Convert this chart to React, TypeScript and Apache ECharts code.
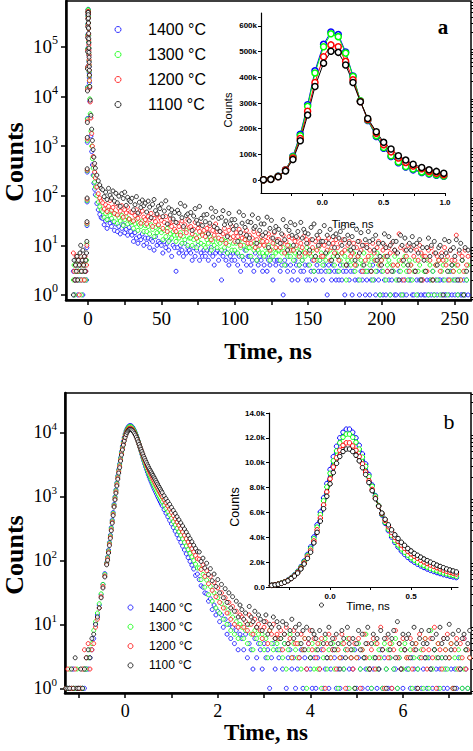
import { useEffect, useRef } from 'react';
import * as echarts from 'echarts';

const SERIES_NAMES = ['1400 °C', '1300 °C', '1200 °C', '1100 °C'];
const SERIES_COLORS = ['#0000ff', '#00ff00', '#ff0000', '#000000'];

// ---------- Panel a: time (ns) and counts ----------
const TIME_A = [
  -10, -9.5, -9, -8.5, -8, -7.5, -7, -6.5, -6, -5.5, -5, -4.5, -4, -3.5, -3, -2.5, -2, -1.5, -1,
  -0.8, -0.7, -0.62, -0.55,
  -0.48, -0.42, -0.36, -0.3, -0.24, -0.18, -0.12, -0.06, 0.01, 0.07, 0.13, 0.19, 0.25,
  0.31, 0.37, 0.44, 0.5, 0.56, 0.62, 0.68, 0.74, 0.81, 0.87, 0.93, 0.99,
  1.2, 1.5, 2, 2.5, 3, 3.5, 4, 4.5, 5, 6, 7, 8, 9,
  10, 11, 12, 13, 14, 15, 16, 17, 18, 19,
  20, 21, 22, 23, 24, 25, 26, 27, 28, 29,
  30, 31, 32, 33, 34, 35, 36, 37, 38, 39,
  40, 41, 42, 43, 44, 45, 46, 47, 48, 49,
  50, 51, 52, 53, 54, 55, 56, 57, 58, 59,
  60, 61, 62, 63, 64, 65, 66, 67, 68, 69,
  70, 71, 72, 73, 74, 75, 76, 77, 78, 79,
  80, 81, 82, 83, 84, 85, 86, 87, 88, 89,
  90, 91, 92, 93, 94, 95, 96, 97, 98, 99,
  100, 101, 102, 103, 104, 105, 106, 107, 108, 109,
  110, 111, 112, 113, 114, 115, 116, 117, 118, 119,
  120, 121, 122, 123, 124, 125, 126, 127, 128, 129,
  130, 131, 132, 133, 134, 135, 136, 137, 138, 139,
  140, 141, 142, 143, 144, 145, 146, 147, 148, 149,
  150, 151, 152, 153, 154, 155, 156, 157, 158, 159,
  160, 161, 162, 163, 164, 165, 166, 167, 168, 169,
  170, 171, 172, 173, 174, 175, 176, 177, 178, 179,
  180, 181, 182, 183, 184, 185, 186, 187, 188, 189,
  190, 191, 192, 193, 194, 195, 196, 197, 198, 199,
  200, 201, 202, 203, 204, 205, 206, 207, 208, 209,
  210, 211, 212, 213, 214, 215, 216, 217, 218, 219,
  220, 221, 222, 223, 224, 225, 226, 227, 228, 229,
  230, 231, 232, 233, 234, 235, 236, 237, 238, 239,
  240, 241, 242, 243, 244, 245, 246, 247, 248, 249,
  250, 251, 252, 253, 254, 255, 256, 257, 258, 259,
];

const COUNTS_A_1400 = [
  3, 1, 2, 5, 2, 4, 1, 3, 2, 4, 3, 2, 5, 1, 3, 2, 4, 3, 2,
  9, 25, 75, 300,
  1200, 3600, 15500, 40000, 93000, 178000, 293000, 425000, 528000, 576000, 566000, 498000, 405000,
  308000, 232000, 170000, 124000, 92000, 68000, 51000, 40000, 30000, 24000, 19000, 15000,
  8000, 3800, 1600, 780, 420, 260, 180, 135, 105, 70, 52, 42, 36,
  35, 26, 31, 22, 33, 28, 24, 30, 20, 27,
  19, 24, 17, 22, 26, 18, 21, 16, 23, 19,
  16, 12, 18, 14, 11, 15, 13, 17, 10, 14,
  11, 14, 9, 13, 12, 8, 15, 10, 12, 11,
  10, 7, 12, 9, 11, 8, 13, 6, 10, 9,
  3, 9, 7, 10, 8, 6, 11, 7, 9, 8,
  7, 5, 9, 6, 8, 10, 5, 7, 6, 8,
  6, 8, 5, 7, 9, 6, 4, 7, 8, 5,
  7, 2, 6, 8, 5, 7, 4, 6, 5, 7,
  5, 7, 4, 6, 3, 6, 5, 8, 4, 6,
  6, 4, 5, 3, 7, 5, 4, 6, 5, 3,
  4, 6, 3, 5, 4, 6, 2, 5, 4, 5,
  5, 3, 4, 1, 5, 4, 3, 6, 4, 2,
  3, 5, 4, 2, 4, 3, 5, 3, 4, 2,
  4, 2, 3, 5, 3, 2, 4, 3, 5, 3,
  2, 4, 3, 1, 4, 3, 2, 4, 3, 2,
  3, 2, 4, 2, 3, 1, 3, 4, 2, 3,
  1, 3, 2, 4, 2, 1, 3, 2, 3, 1,
  2, 3, 1, 2, 4, 2, 1, 3, 2, 1,
  3, 1, 2, 1, 3, 2, 1, 2, 3, 1,
  1, 2, 3, 1, 2, 1, 2, 1, 3, 2,
  2, 1, 1, 3, 2, 1, 2, 1, 2, 1,
  1, 2, 1, 2, 1, 3, 1, 2, 1, 2,
  2, 1, 2, 1, 1, 2, 1, 3, 1, 2,
  1, 2, 1, 2, 1, 1, 2, 1, 2, 1,
];

const COUNTS_A_1300 = [
  2, 4, 1, 3, 5, 2, 4, 3, 6, 2, 3, 1, 4, 5, 2, 3, 4, 2, 5,
  11, 27, 80, 320,
  1300, 3500, 15000, 39000, 91000, 173000, 287000, 417000, 519000, 569000, 558000, 494000, 403000,
  309000, 234000, 173000, 127000, 95000, 71000, 53000, 43000, 32000, 26000, 21000, 16000,
  9000, 4500, 2000, 1000, 560, 360, 250, 190, 150, 100, 75, 60, 52,
  48, 37, 44, 33, 51, 40, 35, 46, 30, 42,
  28, 36, 31, 40, 25, 33, 38, 27, 34, 29,
  30, 22, 27, 33, 20, 26, 24, 31, 19, 25,
  19, 24, 17, 26, 21, 15, 23, 18, 25, 20,
  18, 13, 20, 15, 22, 12, 17, 14, 19, 16,
  12, 16, 14, 18, 11, 15, 13, 20, 10, 14,
  14, 10, 13, 16, 9, 12, 15, 11, 17, 10,
  9, 13, 11, 15, 8, 12, 10, 14, 9, 12,
  11, 8, 13, 9, 12, 7, 10, 14, 8, 11,
  8, 11, 7, 12, 9, 6, 10, 13, 8, 9,
  9, 6, 10, 8, 11, 5, 8, 7, 12, 7,
  6, 9, 7, 10, 5, 8, 6, 11, 7, 8,
  8, 5, 7, 9, 4, 7, 6, 10, 6, 8,
  5, 7, 9, 6, 4, 8, 5, 7, 6, 9,
  7, 4, 6, 8, 3, 6, 5, 9, 5, 7,
  4, 6, 5, 7, 3, 8, 5, 6, 4, 7,
  6, 3, 5, 7, 4, 6, 2, 5, 8, 4,
  5, 7, 3, 4, 6, 2, 5, 4, 7, 3,
  3, 5, 4, 6, 2, 5, 3, 7, 4, 1,
  5, 3, 6, 2, 4, 5, 1, 4, 3, 6,
  2, 4, 5, 3, 1, 4, 6, 3, 2, 5,
  4, 2, 3, 5, 1, 3, 4, 2, 6, 3,
  3, 5, 1, 4, 2, 3, 1, 4, 2, 5,
  1, 3, 4, 2, 5, 1, 3, 2, 4, 3,
  2, 4, 1, 3, 2, 5, 1, 3, 2, 4,
];

const COUNTS_A_1200 = [
  7, 3, 2, 4, 6, 2, 3, 5, 1, 4, 6, 2, 3, 5, 4, 2, 6, 3, 4,
  10, 28, 85, 330,
  1400, 3200, 14000, 39000, 86000, 162000, 268000, 380000, 480000, 526000, 519000, 462000, 390000,
  306000, 236000, 182000, 138000, 110000, 86000, 69000, 55000, 44000, 34000, 27000, 21000,
  15000, 7800, 3700, 1800, 1000, 620, 420, 300, 230, 150, 110, 90, 78,
  72, 54, 66, 48, 61, 80, 51, 58, 44, 69,
  41, 56, 49, 63, 37, 52, 45, 59, 34, 47,
  46, 31, 40, 52, 35, 43, 28, 49, 37, 33,
  27, 38, 33, 44, 24, 35, 30, 41, 26, 36,
  32, 22, 29, 38, 19, 27, 34, 24, 30, 21,
  19, 28, 24, 16, 31, 22, 26, 18, 33, 23,
  24, 17, 21, 29, 14, 22, 19, 26, 16, 20,
  15, 22, 18, 25, 13, 20, 16, 27, 19, 14,
  19, 13, 17, 22, 11, 16, 20, 14, 24, 15,
  12, 18, 15, 21, 10, 14, 17, 13, 20, 11,
  16, 11, 14, 19, 9, 13, 17, 10, 15, 12,
  10, 15, 12, 17, 8, 14, 11, 18, 9, 13,
  13, 9, 11, 16, 7, 12, 10, 15, 8, 14,
  8, 12, 10, 14, 6, 11, 9, 15, 7, 13,
  11, 7, 13, 9, 5, 12, 8, 14, 10, 6,
  6, 10, 12, 8, 14, 5, 9, 11, 7, 13,
  9, 5, 11, 7, 13, 8, 4, 10, 12, 6,
  7, 11, 4, 9, 6, 12, 8, 3, 10, 5,
  10, 6, 8, 3, 11, 7, 5, 9, 12, 4,
  5, 8, 10, 6, 3, 9, 7, 11, 4, 8,
  7, 4, 17, 9, 5, 2, 8, 6, 10, 3,
  4, 9, 6, 3, 8, 5, 10, 7, 2, 6,
  6, 3, 8, 5, 9, 2, 7, 4, 6, 5,
  3, 7, 5, 9, 4, 6, 2, 8, 5, 3,
  5, 16, 4, 7, 2, 6, 3, 8, 4, 6,
];

const COUNTS_A_1100 = [
  1, 5, 2, 4, 3, 6, 2, 5, 4, 7, 10, 3, 5, 8, 4, 6, 3, 5, 7,
  12, 30, 90, 350,
  1500, 3000, 13000, 36000, 80000, 153000, 253000, 364000, 455000, 501000, 497000, 448000, 380000,
  305000, 240000, 188000, 147000, 121000, 95000, 78000, 62000, 49000, 40000, 34000, 27000,
  16000, 8500, 4200, 2200, 1300, 850, 600, 450, 360, 260, 200, 165, 140,
  132, 96, 118, 84, 141, 103, 90, 125, 78, 112,
  72, 98, 61, 110, 88, 118, 64, 93, 81, 76,
  89, 52, 66, 96, 45, 74, 58, 82, 63, 71,
  47, 78, 59, 36, 67, 84, 50, 43, 61, 55,
  68, 38, 49, 79, 27, 57, 41, 52, 34, 46,
  29, 51, 44, 70, 36, 24, 62, 40, 43, 31,
  46, 20, 39, 55, 32, 27, 61, 35, 25, 41,
  30, 42, 17, 28, 56, 37, 24, 48, 22, 35,
  19, 37, 50, 26, 31, 15, 44, 27, 33, 21,
  33, 25, 12, 47, 18, 28, 40, 23, 16, 30,
  14, 29, 41, 22, 24, 11, 35, 20, 27, 16,
  27, 18, 37, 9, 22, 32, 14, 19, 24, 12,
  21, 11, 17, 33, 13, 24, 8, 20, 29, 16,
  10, 26, 15, 19, 7, 29, 14, 21, 18, 11,
  17, 8, 23, 13, 27, 6, 16, 10, 19, 12,
  12, 25, 7, 16, 11, 21, 5, 15, 9, 17,
  6, 14, 19, 10, 23, 13, 4, 16, 11, 8,
  15, 9, 5, 21, 12, 7, 18, 10, 4, 13,
  9, 19, 12, 3, 13, 8, 16, 5, 11, 6,
  4, 11, 17, 9, 6, 15, 10, 3, 12, 8,
  12, 7, 2, 16, 10, 5, 14, 8, 4, 11,
  8, 15, 10, 3, 11, 7, 13, 2, 9, 5,
  3, 9, 14, 6, 10, 2, 12, 7, 4, 9,
  10, 6, 1, 13, 7, 3, 12, 8, 4, 9,
  6, 13, 2, 8, 11, 5, 1, 9, 3, 8,
];

// ---------- Panel b: time (ns) and counts ----------
const TIME_B = [
  -1.28, -1.24, -1.2, -1.16, -1.12, -1.08, -1.04, -1, -0.96, -0.92, -0.88,
  -0.84, -0.8, -0.76, -0.72, -0.68, -0.64, -0.6, -0.56, -0.52, -0.48, -0.44,
  -0.4, -0.38, -0.36, -0.34, -0.32, -0.3, -0.28, -0.26, -0.24, -0.22,
  -0.2, -0.18, -0.16, -0.14, -0.12, -0.1, -0.08, -0.06, -0.04, -0.02,
  0, 0.02, 0.04, 0.06, 0.08, 0.1, 0.12, 0.14, 0.16, 0.18,
  0.2, 0.22, 0.24, 0.26, 0.28, 0.3, 0.32, 0.34, 0.36, 0.38,
  0.4, 0.42, 0.44, 0.46, 0.48, 0.5, 0.52, 0.54, 0.56, 0.58,
  0.6, 0.62, 0.64, 0.66, 0.68, 0.7, 0.72, 0.74, 0.76, 0.78, 0.8,
  0.84, 0.88, 0.92, 0.96, 1, 1.04, 1.08, 1.12, 1.16, 1.2, 1.24, 1.28, 1.32, 1.36, 1.4, 1.44, 1.48, 1.52, 1.56,
  1.6, 1.64, 1.68, 1.72, 1.76, 1.8, 1.84, 1.88, 1.92, 1.96, 2, 2.04, 2.08, 2.12, 2.16, 2.2, 2.24, 2.28,
  2.32, 2.36, 2.4, 2.44, 2.48,
  2.52, 2.56, 2.6, 2.64, 2.68, 2.72, 2.76, 2.8, 2.84, 2.88,
  2.92, 2.96, 3, 3.04, 3.08, 3.12, 3.16, 3.2, 3.24, 3.28,
  3.32, 3.36, 3.4, 3.44, 3.48, 3.52, 3.56, 3.6, 3.64, 3.68,
  3.72, 3.76, 3.8, 3.84, 3.88, 3.92, 3.96, 4, 4.04, 4.08,
  4.12, 4.16, 4.2, 4.24, 4.28, 4.32, 4.36, 4.4, 4.44, 4.48,
  4.52, 4.56, 4.6, 4.64, 4.68, 4.72, 4.76, 4.8, 4.84, 4.88,
  4.92, 4.96, 5, 5.04, 5.08, 5.12, 5.16, 5.2, 5.24, 5.28,
  5.32, 5.36, 5.4, 5.44, 5.48, 5.52, 5.56, 5.6, 5.64, 5.68,
  5.72, 5.76, 5.8, 5.84, 5.88, 5.92, 5.96, 6, 6.04, 6.08,
  6.12, 6.16, 6.2, 6.24, 6.28, 6.32, 6.36, 6.4, 6.44, 6.48,
  6.52, 6.56, 6.6, 6.64, 6.68, 6.72, 6.76, 6.8, 6.84, 6.88,
  6.92, 6.96, 7, 7.04, 7.08, 7.12, 7.16, 7.2, 7.24, 7.28,
  7.32, 7.36, 7.4, 7.44,
];

const COUNTS_B_1400 = [
  1, 1, 1, 1, 2, 1, 1, 1, 1, 1, 1, 2, 2, 3, 4, 6, 10, 14, 20, 29, 42, 62,
  92, 113, 145, 190, 248, 325, 425, 560, 750, 980,
  1260, 1630, 2090, 2620, 3220, 4020, 5000, 6030, 7170, 8320,
  9450, 10480, 11320, 12000, 12450, 12700, 12700, 12450, 12000, 11400,
  10700, 9900, 9050, 8200, 7350, 6550, 5800, 5130, 4540, 4020,
  3590, 3220, 2900, 2630, 2390, 2180, 2000, 1840, 1700, 1570,
  1450, 1340, 1250, 1160, 1080, 1000, 935, 870, 815, 760, 710,
  620, 545, 480, 420, 370, 325, 285, 250, 218, 190, 166, 145, 126, 110, 96, 84, 73, 58, 61,
  50, 40, 38, 31, 30, 23, 25, 17, 20, 14, 16, 11, 14, 9, 12, 7, 10, 6, 9, 5, 8, 4, 7,
  6, 4, 7, 3, 5, 4, 2, 6, 3, 5,
  4, 2, 5, 3, 4, 1, 3, 5, 2, 4,
  3, 4, 2, 5, 1, 3, 4, 2, 3, 1,
  2, 3, 4, 1, 3, 2, 5, 2, 1, 3,
  1, 3, 2, 4, 1, 2, 3, 1, 2, 4,
  3, 1, 2, 1, 3, 2, 4, 1, 2, 3,
  2, 4, 1, 3, 2, 1, 3, 2, 1, 2,
  1, 2, 3, 1, 2, 4, 1, 3, 2, 1,
  3, 1, 2, 2, 1, 3, 2, 1, 4, 2,
  2, 1, 3, 2, 1, 2, 3, 1, 2, 3,
  1, 3, 2, 1, 4, 2, 1, 2, 3, 1,
  2, 1, 3, 2, 1, 2, 1, 3, 2, 1,
  6, 2, 1, 3,
];

const COUNTS_B_1300 = [
  1, 1, 2, 1, 1, 1, 2, 1, 1, 1, 2, 2, 3, 4, 5, 8, 11, 15, 21, 30, 42, 60,
  90, 110, 140, 185, 240, 315, 410, 540, 725, 950,
  1220, 1580, 2020, 2530, 3100, 3880, 4820, 5820, 6930, 8050,
  9150, 10150, 10950, 11600, 12050, 12300, 12300, 12050, 11650, 11100,
  10450, 9700, 8900, 8100, 7300, 6550, 5850, 5200, 4650, 4150,
  3730, 3380, 3070, 2800, 2560, 2350, 2160, 2000, 1850, 1720,
  1600, 1490, 1390, 1300, 1210, 1130, 1060, 990, 930, 870, 820,
  725, 645, 575, 510, 452, 400, 355, 315, 278, 245, 216, 190, 167, 147, 129, 113, 99, 87, 76,
  76, 50, 60, 38, 49, 29, 39, 23, 31, 18, 26, 15, 21, 12, 18, 10, 15, 8, 13, 7, 11, 6, 10,
  9, 6, 8, 5, 10, 7, 4, 8, 6, 7,
  5, 7, 4, 6, 3, 8, 5, 4, 6, 5,
  4, 6, 3, 5, 2, 4, 7, 3, 5, 4,
  3, 5, 2, 4, 6, 1, 4, 3, 5, 2,
  4, 2, 5, 1, 3, 6, 2, 4, 3, 5,
  2, 4, 1, 3, 5, 2, 4, 6, 1, 3,
  4, 1, 3, 5, 2, 4, 3, 7, 2, 3,
  1, 3, 5, 2, 4, 3, 1, 5, 2, 4,
  3, 5, 2, 6, 1, 3, 4, 2, 5, 3,
  2, 4, 1, 3, 5, 2, 3, 4, 1, 6,
  3, 1, 8, 2, 4, 3, 5, 1, 3, 2,
  4, 2, 3, 5, 1, 3, 2, 4, 3, 1,
  2, 4, 1, 3,
];

const COUNTS_B_1200 = [
  1, 2, 1, 1, 1, 2, 1, 1, 1, 2, 4, 3, 5, 2, 4, 5, 9, 12, 18, 27, 39, 57,
  88, 105, 135, 178, 230, 300, 395, 520, 700, 910,
  1170, 1510, 1930, 2420, 2950, 3700, 4600, 5550, 6600, 7650,
  8700, 9650, 10400, 11000, 11400, 11600, 11600, 11350, 11000, 10500,
  9900, 9250, 8550, 7850, 7150, 6500, 5900, 5350, 4850, 4400,
  4000, 3680, 3380, 3120, 2880, 2670, 2480, 2310, 2160, 2020,
  1890, 1770, 1660, 1550, 1450, 1360, 1270, 1190, 1120, 1050, 990,
  880, 790, 705, 630, 560, 500, 445, 395, 352, 312, 277, 246, 218, 193, 171, 152, 135, 119, 106,
  104, 72, 85, 56, 69, 43, 56, 34, 45, 27, 37, 22, 31, 18, 26, 15, 22, 12, 19, 10, 16, 9, 14,
  13, 9, 11, 8, 14, 10, 7, 12, 9, 10,
  8, 6, 9, 11, 5, 8, 7, 10, 6, 7,
  6, 8, 4, 7, 9, 5, 6, 3, 8, 5,
  5, 3, 7, 4, 6, 2, 5, 8, 4, 6,
  3, 5, 2, 6, 4, 1, 5, 7, 3, 4,
  6, 2, 4, 3, 7, 5, 1, 4, 6, 3,
  2, 5, 3, 6, 1, 4, 7, 3, 5, 2,
  4, 6, 2, 5, 3, 9, 4, 1, 6, 3,
  5, 1, 4, 8, 3, 5, 2, 6, 4, 3,
  3, 6, 2, 4, 5, 1, 7, 3, 4, 6,
  2, 4, 6, 3, 9, 1, 5, 4, 2, 6,
  4, 7, 3, 5, 1, 4, 6, 2, 5, 3,
  6, 2, 4, 3,
];

const COUNTS_B_1100 = [
  1, 1, 1, 2, 1, 3, 1, 1, 2, 1, 2, 3, 4, 3, 6, 7, 10, 13, 18, 26, 37, 55,
  85, 100, 130, 170, 220, 290, 380, 500, 680, 880,
  1120, 1450, 1850, 2300, 2800, 3550, 4400, 5300, 6300, 7300,
  8300, 9200, 9950, 10500, 10900, 11100, 11100, 10900, 10600, 10150,
  9600, 9050, 8400, 7750, 7100, 6500, 5950, 5450, 5000, 4600,
  4200, 3900, 3600, 3350, 3100, 2900, 2700, 2550, 2400, 2250,
  2120, 2000, 1880, 1760, 1650, 1550, 1450, 1370, 1290, 1210, 1140,
  1020, 920, 830, 750, 670, 600, 540, 480, 430, 385, 345, 308, 275, 245, 218, 195, 172, 153, 137,
  135, 96, 108, 76, 90, 60, 74, 48, 61, 39, 50, 31, 42, 26, 36, 22, 31, 18, 27, 16, 23, 13, 20,
  17, 12, 15, 10, 19, 13, 11, 16, 9, 14,
  12, 8, 11, 14, 7, 10, 9, 13, 6, 11,
  9, 6, 11, 7, 10, 5, 8, 12, 6, 9,
  7, 10, 5, 8, 4, 9, 6, 3, 8, 7,
  6, 4, 8, 20, 5, 7, 3, 9, 5, 6,
  4, 7, 5, 2, 8, 6, 3, 9, 5, 4,
  6, 1, 5, 8, 4, 7, 3, 5, 9, 2,
  5, 7, 3, 6, 2, 8, 4, 6, 1, 7,
  4, 6, 8, 3, 11, 5, 2, 7, 4, 6,
  7, 3, 5, 9, 4, 1, 6, 8, 5, 3,
  5, 8, 2, 6, 4, 7, 3, 9, 5, 6,
  3, 6, 10, 4, 7, 1, 5, 8, 2, 6,
  7, 4, 5, 8,
];

// ---------- Axis ticks / labels ----------
const X_TICKS_A = [0, 25, 50, 75, 100, 125, 150, 175, 200, 225, 250];
const X_LABELS_A = [0, 50, 100, 150, 200, 250];
const Y_DECADES_A = [1, 10, 100, 1000, 10000, 100000];
const X_TICKS_B = [-1, 0, 1, 2, 3, 4, 5, 6, 7];
const X_LABELS_B = [0, 2, 4, 6];
const Y_DECADES_B = [1, 10, 100, 1000, 10000];
const INSET_A_X_TICKS = [-0.25, 0, 0.25, 0.5, 0.75, 1];
const INSET_A_X_LABELS = [0, 0.5, 1];
const INSET_A_Y_TICKS = [0, 100000, 200000, 300000, 400000, 500000, 600000];
const INSET_B_X_TICKS = [-0.25, 0, 0.25, 0.5, 0.75];
const INSET_B_X_LABELS = [0, 0.5];

const SERIF = '"Liberation Serif", "Times New Roman", serif';
const SANS = '"Liberation Sans", Arial, sans-serif';

const A_Y_MIN = 0.79;
const A_Y_MAX = 846000;
const B_Y_MIN = 0.845;
const B_Y_MAX = 41100;

function minorLogTicks(lo: number, hi: number) {
  const out: number[] = [];
  for (let e = -1; e <= 6; e++) {
    for (let k = 2; k <= 9; k++) {
      const v = e + Math.log10(k);
      if (v > lo && v < hi) out.push(v);
    }
  }
  return out;
}

const toPairs = (t: number[], c: number[]) => t.map((x, i) => [x, c[i]]);

export default function App() {
  const ref = useRef<HTMLDivElement>(null);

  useEffect(() => {
    if (!ref.current) return;
    const chart = echarts.init(ref.current, undefined, { renderer: 'svg' });

    const countsA = [COUNTS_A_1400, COUNTS_A_1300, COUNTS_A_1200, COUNTS_A_1100];
    const countsB = [COUNTS_B_1400, COUNTS_B_1300, COUNTS_B_1200, COUNTS_B_1100];

    const axisBlack = { color: '#000' };
    const supRich = (size: number) => ({
      b: { fontSize: size, fontFamily: SERIF, color: '#000', lineHeight: size + 6 },
      s: { fontSize: Math.round(size * 0.63), fontFamily: SERIF, color: '#000', lineHeight: Math.round(size * 0.63), verticalAlign: 'top' },
    });
    const logFormatter = (v: number) => `{b|10}{s|${Math.round(Math.log10(v))}}`;

    const mainScatter = (counts: number[][], time: number[], xi: number, yi: number, size: number) =>
      counts.map((c, i) => ({
        type: 'scatter',
        name: SERIES_NAMES[i],
        xAxisIndex: xi,
        yAxisIndex: yi,
        data: toPairs(time, c),
        symbol: 'circle',
        symbolSize: size,
        itemStyle: { color: '#fff', borderColor: SERIES_COLORS[i], borderWidth: 1 },
        silent: true,
        z: 2,
      }));

    const insetLine = (counts: number[][], time: number[], xi: number, yi: number, lo: number, hi: number, size: number, bw: number) =>
      counts.map((c, i) => ({
        type: 'line',
        name: SERIES_NAMES[i],
        xAxisIndex: xi,
        yAxisIndex: yi,
        data: toPairs(time, c).filter((p) => p[0] >= lo && p[0] <= hi),
        symbol: 'circle',
        symbolSize: size,
        showSymbol: true,
        itemStyle: { color: '#fff', borderColor: SERIES_COLORS[i], borderWidth: bw },
        lineStyle: { color: SERIES_COLORS[i], width: 1 },
        silent: true,
        z: 3,
      }));

    const legendData = SERIES_NAMES.map((n, i) => ({
      name: n,
      icon: 'circle',
      itemStyle: { color: '#fff', borderColor: SERIES_COLORS[i], borderWidth: 1 },
    }));

    const option = {
      animation: false,
      backgroundColor: '#fff',
      textStyle: { fontFamily: SANS },
      grid: [
        { left: 66, top: 1, width: 405, height: 299, show: true, borderColor: '#000', borderWidth: 1.5, backgroundColor: 'transparent', outerBoundsMode: 'none' },
        { left: 261, top: 13, width: 184, height: 180, outerBoundsMode: 'none' },
        { left: 65, top: 393, width: 406, height: 300, show: true, borderColor: '#000', borderWidth: 1.5, backgroundColor: 'transparent', outerBoundsMode: 'none' },
        { left: 269, top: 413, width: 189, height: 174, outerBoundsMode: 'none' },
      ],
      xAxis: [
        {
          gridIndex: 0, type: 'value', min: -15, max: 261,
          axisLine: { onZero: false, lineStyle: { ...axisBlack, width: 2.5 } },
          axisTick: { customValues: X_TICKS_A, length: 5, lineStyle: { ...axisBlack, width: 1.5 } },
          axisLabel: { customValues: X_LABELS_A, fontFamily: SERIF, fontSize: 19, color: '#000', margin: 9 },
          splitLine: { show: false },
        },
        {
          gridIndex: 1, type: 'value', min: -0.5, max: 1,
          axisLine: { onZero: false, lineStyle: { ...axisBlack, width: 1.2 } },
          axisTick: { customValues: INSET_A_X_TICKS, length: 3, lineStyle: { ...axisBlack, width: 1 } },
          axisLabel: { customValues: INSET_A_X_LABELS, formatter: (v: number) => v.toFixed(1), fontFamily: SANS, fontWeight: 'bold', fontSize: 8, color: '#000', margin: 5 },
          splitLine: { show: false },
        },
        {
          gridIndex: 2, type: 'value', min: -1.3, max: 7.47,
          axisLine: { onZero: false, lineStyle: { ...axisBlack, width: 2.5 } },
          axisTick: { customValues: X_TICKS_B, length: 5, lineStyle: { ...axisBlack, width: 1.5 } },
          axisLabel: { customValues: X_LABELS_B, fontFamily: SERIF, fontSize: 18, color: '#000', margin: 9 },
          splitLine: { show: false },
        },
        {
          gridIndex: 3, type: 'value', min: -0.377, max: 0.79,
          axisLine: { onZero: false, lineStyle: { ...axisBlack, width: 1.2 } },
          axisTick: { customValues: INSET_B_X_TICKS, length: 3, lineStyle: { ...axisBlack, width: 1 } },
          axisLabel: { customValues: INSET_B_X_LABELS, formatter: (v: number) => v.toFixed(1), fontFamily: SANS, fontWeight: 'bold', fontSize: 8, color: '#000', margin: 5 },
          splitLine: { show: false },
        },
      ],
      yAxis: [
        {
          gridIndex: 0, type: 'log', logBase: 10, min: A_Y_MIN, max: A_Y_MAX,
          axisLine: { onZero: false, lineStyle: { ...axisBlack, width: 2.5 } },
          axisTick: { customValues: Y_DECADES_A, length: 5, lineStyle: { ...axisBlack, width: 1.5 } },
          axisLabel: { customValues: Y_DECADES_A, formatter: logFormatter, rich: supRich(19), margin: 8 },
          splitLine: { show: false },
        },
        {
          gridIndex: 0, type: 'value', min: Math.log10(A_Y_MIN), max: Math.log10(A_Y_MAX),
          axisLine: { show: false, onZero: false },
          axisTick: { show: true, customValues: minorLogTicks(Math.log10(A_Y_MIN), Math.log10(A_Y_MAX)), length: 3, lineStyle: { ...axisBlack, width: 1 } },
          axisLabel: { show: false },
          splitLine: { show: false },
        },
        {
          gridIndex: 1, type: 'value', min: -50000, max: 650000,
          axisLine: { show: true, onZero: false, lineStyle: { ...axisBlack, width: 1.2 } },
          axisTick: { show: true, customValues: INSET_A_Y_TICKS, length: 3, lineStyle: { ...axisBlack, width: 1 } },
          axisLabel: { customValues: INSET_A_Y_TICKS, formatter: (v: number) => (v === 0 ? '0' : `${v / 1000}k`), fontFamily: SANS, fontWeight: 'bold', fontSize: 8, color: '#000', margin: 4 },
          splitLine: { show: false },
        },
        {
          gridIndex: 2, type: 'log', logBase: 10, min: B_Y_MIN, max: B_Y_MAX,
          axisLine: { onZero: false, lineStyle: { ...axisBlack, width: 2.5 } },
          axisTick: { customValues: Y_DECADES_B, length: 5, lineStyle: { ...axisBlack, width: 1.5 } },
          axisLabel: { customValues: Y_DECADES_B, formatter: logFormatter, rich: supRich(18), margin: 8 },
          splitLine: { show: false },
        },
        {
          gridIndex: 2, type: 'value', min: Math.log10(B_Y_MIN), max: Math.log10(B_Y_MAX),
          axisLine: { show: false, onZero: false },
          axisTick: { show: true, customValues: minorLogTicks(Math.log10(B_Y_MIN), Math.log10(B_Y_MAX)), length: 3, lineStyle: { ...axisBlack, width: 1 } },
          axisLabel: { show: false },
          splitLine: { show: false },
        },
        {
          gridIndex: 3, type: 'value', min: 0, max: 14000, interval: 2000,
          axisLine: { show: true, onZero: false, lineStyle: { ...axisBlack, width: 1.2 } },
          axisTick: { show: true, length: 3, lineStyle: { ...axisBlack, width: 1 } },
          axisLabel: { formatter: (v: number) => (v === 0 ? '0.0' : `${(v / 1000).toFixed(1)}k`), fontFamily: SANS, fontWeight: 'bold', fontSize: 8, color: '#000', margin: 4 },
          splitLine: { show: false },
        },
      ],
      legend: [
        {
          left: 114.5, top: 21.5, orient: 'vertical', padding: 0,
          itemWidth: 6, itemHeight: 6, itemGap: 9, selectedMode: false,
          data: legendData,
          formatter: (n: string) => `{p| }${n}`,
          textStyle: { fontFamily: SANS, fontSize: 16, color: '#000', lineHeight: 16, rich: { p: { width: 22 } } },
        },
        {
          left: 127.5, top: 601.5, orient: 'vertical', padding: 0,
          itemWidth: 5, itemHeight: 5, itemGap: 7.3, selectedMode: false,
          data: legendData,
          formatter: (n: string) => `{p| }${n}`,
          textStyle: { fontFamily: SANS, fontSize: 12, color: '#000', lineHeight: 12, rich: { p: { width: 11 } } },
        },
      ],
      graphic: {
        elements: [
          { type: 'text', x: 14, y: 162, rotation: Math.PI / 2, style: { text: 'Counts', fontFamily: SERIF, fontSize: 26, fontWeight: 'bold', fill: '#000', align: 'center', verticalAlign: 'middle' } },
          { type: 'text', x: 268, y: 351, style: { text: 'Time, ns', fontFamily: SERIF, fontSize: 24, fontWeight: 'bold', fill: '#000', align: 'center', verticalAlign: 'middle' } },
          { type: 'text', x: 14, y: 555, rotation: Math.PI / 2, style: { text: 'Counts', fontFamily: SERIF, fontSize: 26, fontWeight: 'bold', fill: '#000', align: 'center', verticalAlign: 'middle' } },
          { type: 'text', x: 266, y: 732, style: { text: 'Time, ns', fontFamily: SERIF, fontSize: 23, fontWeight: 'bold', fill: '#000', align: 'center', verticalAlign: 'middle' } },
          { type: 'text', x: 443, y: 26.5, style: { text: 'a', fontFamily: SERIF, fontSize: 21, fontWeight: 'bold', fill: '#000', align: 'center', verticalAlign: 'middle' } },
          { type: 'text', x: 449, y: 421, style: { text: 'b', fontFamily: SERIF, fontSize: 22, fill: '#000', align: 'center', verticalAlign: 'middle' } },
          { type: 'text', x: 227.5, y: 110, rotation: Math.PI / 2, style: { text: 'Counts', fontFamily: SANS, fontSize: 11, fill: '#000', align: 'center', verticalAlign: 'middle' } },
          { type: 'text', x: 352.5, y: 223.5, style: { text: 'Time, ns', fontFamily: SANS, fontSize: 11, fill: '#000', align: 'center', verticalAlign: 'middle' } },
          { type: 'text', x: 234.5, y: 507, rotation: Math.PI / 2, style: { text: 'Counts', fontFamily: SANS, fontSize: 12.5, fill: '#000', align: 'center', verticalAlign: 'middle' } },
          { type: 'text', x: 368, y: 606, style: { text: 'Time, ns', fontFamily: SANS, fontSize: 11.5, fill: '#000', align: 'center', verticalAlign: 'middle' } },
        ],
      },
      series: [
        ...mainScatter(countsA, TIME_A, 0, 0, 4),
        ...insetLine(countsA, TIME_A, 1, 2, -0.5, 1.0, 6, 1.5),
        ...mainScatter(countsB, TIME_B, 2, 3, 4),
        ...insetLine(countsB, TIME_B, 3, 5, -0.38, 0.79, 4.5, 1),
      ],
    };

    chart.setOption(option as any);
    return () => chart.dispose();
  }, []);

  return (
    <div
      ref={ref}
      style={{ position: 'fixed', left: 0, top: 0, width: 473, height: 751, background: '#fff' }}
    />
  );
}
